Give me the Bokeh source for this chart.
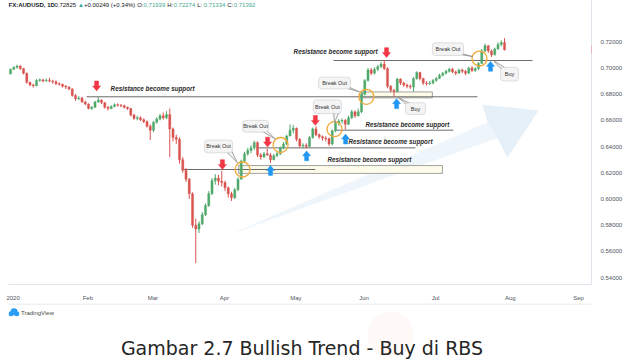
import numpy as np
import pandas as pd
from bokeh.plotting import figure
from bokeh.models import Range1d, FixedTicker, BoxAnnotation, Label, ColumnDataSource
from bokeh.layouts import column
from bokeh.embed import file_html
from bokeh.resources import INLINE
from bokeh.core.properties import value

# ---------------- DATA (AUDUSD daily) ----------------
trade_dates = pd.bdate_range("2020-01-01", "2020-07-31")
first_open = 0.6955
closes = [0.6990, 0.7005, 0.7015, 0.6995, 0.6960, 0.6890, 0.6870, 0.6865, 0.6905, 0.6910,
          0.6900, 0.6905, 0.6900, 0.6895, 0.6880, 0.6875, 0.6860, 0.6855, 0.6840, 0.6790,
          0.6765, 0.6770, 0.6740, 0.6725, 0.6690, 0.6700, 0.6740, 0.6755, 0.6735, 0.6700,
          0.6690, 0.6705, 0.6720, 0.6715, 0.6712, 0.6700, 0.6690, 0.6640, 0.6615, 0.6620,
          0.6605, 0.6590, 0.6555, 0.6525, 0.6585, 0.6610, 0.6635, 0.6620, 0.6645, 0.6535,
          0.6470, 0.6455, 0.6300, 0.6220, 0.6150, 0.6040, 0.5800, 0.5770, 0.5810, 0.5880,
          0.5950, 0.6040, 0.6140, 0.6160, 0.6135, 0.6125, 0.6085, 0.6040, 0.6010, 0.6070,
          0.6150, 0.6290, 0.6345, 0.6370, 0.6390, 0.6430, 0.6335, 0.6320, 0.6345, 0.6335,
          0.6300, 0.6330, 0.6345, 0.6390, 0.6420, 0.6480, 0.6525, 0.6540, 0.6455, 0.6405,
          0.6410, 0.6400, 0.6470, 0.6535, 0.6490, 0.6475, 0.6465, 0.6460, 0.6420, 0.6520,
          0.6580, 0.6595, 0.6600, 0.6570, 0.6620, 0.6665, 0.6635, 0.6665, 0.6800, 0.6905,
          0.6985, 0.6960, 0.6990, 0.7010, 0.7030, 0.6995, 0.6860, 0.6830, 0.6820, 0.6915,
          0.6885, 0.6870, 0.6860, 0.6855, 0.6920, 0.6965, 0.6920, 0.6885, 0.6880, 0.6885,
          0.6905, 0.6920, 0.6945, 0.6960, 0.6975, 0.6990, 0.6970, 0.6960, 0.6985, 0.6975,
          0.6960, 0.7000, 0.6980, 0.6995, 0.7035, 0.7130, 0.7170, 0.7130, 0.7100, 0.7145,
          0.7180, 0.71939, 0.71392]
highs = [0.6995, 0.7010, 0.7025, 0.7020, 0.7000, 0.6965, 0.6895, 0.6880, 0.6915, 0.6920,
         0.6915, 0.6920, 0.6925, 0.6910, 0.6905, 0.6890, 0.6880, 0.6870, 0.6860, 0.6845,
         0.6800, 0.6785, 0.6780, 0.6750, 0.6730, 0.6710, 0.6750, 0.6778, 0.6760, 0.6740,
         0.6710, 0.6715, 0.6730, 0.6730, 0.6725, 0.6720, 0.6705, 0.6695, 0.6650, 0.6635,
         0.6630, 0.6615, 0.6600, 0.6570, 0.6595, 0.6625, 0.6650, 0.6660, 0.6670, 0.6690,
         0.6545, 0.6490, 0.6470, 0.6320, 0.6235, 0.6160, 0.6050, 0.5850, 0.5830, 0.5900,
         0.5965, 0.6060, 0.6160, 0.6190, 0.6185, 0.6215, 0.6140, 0.6095, 0.6055, 0.6085,
         0.6165, 0.6300, 0.6360, 0.6390, 0.6410, 0.6445, 0.6440, 0.6350, 0.6360, 0.6385,
         0.6350, 0.6345, 0.6360, 0.6400, 0.6435, 0.6490, 0.6570, 0.6565, 0.6545, 0.6465,
         0.6425, 0.6425, 0.6480, 0.6545, 0.6555, 0.6500, 0.6485, 0.6480, 0.6470, 0.6530,
         0.6595, 0.6610, 0.6615, 0.6610, 0.6635, 0.6680, 0.6675, 0.6690, 0.6815, 0.6915,
         0.7000, 0.7000, 0.7005, 0.7025, 0.7045, 0.7060, 0.7005, 0.6870, 0.6840, 0.6925,
         0.6920, 0.6895, 0.6880, 0.6875, 0.6930, 0.6975, 0.6970, 0.6925, 0.6900, 0.6900,
         0.6915, 0.6930, 0.6955, 0.6970, 0.6985, 0.7000, 0.7000, 0.6980, 0.6995, 0.6995,
         0.6985, 0.7010, 0.7015, 0.7005, 0.7045, 0.7145, 0.7185, 0.7175, 0.7140, 0.7155,
         0.7195, 0.7210, 0.72274]
lows = [0.6950, 0.6985, 0.6995, 0.6985, 0.6950, 0.6880, 0.6860, 0.6850, 0.6860, 0.6895,
        0.6890, 0.6895, 0.6890, 0.6880, 0.6870, 0.6865, 0.6850, 0.6840, 0.6830, 0.6780,
        0.6750, 0.6755, 0.6735, 0.6715, 0.6685, 0.6680, 0.6695, 0.6735, 0.6725, 0.6690,
        0.6675, 0.6685, 0.6700, 0.6705, 0.6700, 0.6690, 0.6680, 0.6630, 0.6605, 0.6600,
        0.6595, 0.6580, 0.6545, 0.6450, 0.6510, 0.6575, 0.6600, 0.6605, 0.6610, 0.6320,
        0.6440, 0.6420, 0.6270, 0.6200, 0.6130, 0.6000, 0.5780, 0.5510, 0.5740, 0.5800,
        0.5870, 0.5940, 0.6030, 0.6110, 0.6105, 0.6095, 0.6060, 0.6010, 0.5985, 0.6000,
        0.6060, 0.6150, 0.6275, 0.6330, 0.6350, 0.6375, 0.6320, 0.6300, 0.6315, 0.6330,
        0.6275, 0.6295, 0.6320, 0.6335, 0.6380, 0.6410, 0.6480, 0.6500, 0.6440, 0.6390,
        0.6385, 0.6385, 0.6395, 0.6460, 0.6480, 0.6460, 0.6445, 0.6440, 0.6405, 0.6410,
        0.6510, 0.6560, 0.6575, 0.6530, 0.6565, 0.6610, 0.6620, 0.6630, 0.6655, 0.6790,
        0.6895, 0.6945, 0.6950, 0.6975, 0.7000, 0.6985, 0.6845, 0.6815, 0.6780, 0.6815,
        0.6870, 0.6855, 0.6845, 0.6840, 0.6820, 0.6910, 0.6905, 0.6870, 0.6865, 0.6870,
        0.6875, 0.6895, 0.6915, 0.6935, 0.6950, 0.6965, 0.6960, 0.6945, 0.6955, 0.6960,
        0.6945, 0.6955, 0.6970, 0.6970, 0.6985, 0.7030, 0.7120, 0.7115, 0.7085, 0.7095,
        0.7140, 0.7165, 0.71334]
month_labels = ["2020", "Feb", "Mar", "Apr", "May", "Jun", "Jul", "Aug", "Sep"]
price_ticks = [0.54, 0.56, 0.58, 0.60, 0.62, 0.64, 0.66, 0.68, 0.70, 0.72]
last_price = 0.71392
header_parts = [("FX:AUDUSD, 1D", "#131722", "bold"), ("0.72825", "#131722", "normal"),
                ("\u25B2", "#26a69a", "normal"), ("+0.00249 (+0.34%)", "#131722", "normal"),
                ("O:", "#131722", "normal"), ("0.71939", "#3fa98f", "normal"),
                ("H:", "#131722", "normal"), ("0.72274", "#3fa98f", "normal"),
                ("L:", "#131722", "normal"), ("0.71334", "#3fa98f", "normal"),
                ("C:", "#131722", "normal"), ("0.71392", "#3fa98f", "normal")]
caption = "Gambar 2.7 Bullish Trend - Buy di RBS"

# ---------------- ANNOTATIONS (in data units: trade index, price) ----------------
support_lines = [(23.4, 143.7, 0.6780), (99.4, 160.6, 0.7057), (53.2, 93.8, 0.6225),
                 (75.7, 124.6, 0.6390), (100.0, 136.3, 0.6525)]
support_texts = [(30.8, 0.6840), (87.1, 0.7125), (97.5, 0.6300), (104.0, 0.6435), (109.2, 0.6570)]
zones = [(70.2, 132.9, 0.6195, 0.6255), (108.3, 129.8, 0.6772, 0.6817)]
down_arrows = [(26.5, 0.6825), (65.2, 0.6225), (79.1, 0.6397), (93.8, 0.6562), (115.7, 0.7080)]
up_arrows = [(80.0, 0.6255), (91.1, 0.6367), (103.1, 0.6495), (118.8, 0.6765), (147.7, 0.7050)]
breakout_pts = [(71.4, 0.6225), (83.1, 0.6412), (99.7, 0.6533), (109.5, 0.6780), (144.3, 0.7072)]
callouts = [  # text, left, right, bottom, top, base_x, base_y, tip_x, tip_y
    ("Break Out", 59.7, 68.3, 0.6352, 0.6450, 67.1, 0.6367, 69.8, 0.6277),
    ("Break Out", 71.4, 79.4, 0.6510, 0.6600, 77.8, 0.6525, 81.5, 0.6457),
    ("Break Out", 93.2, 101.8, 0.6652, 0.6757, 100.3, 0.6667, 99.7, 0.6585),
    ("Break Out", 94.8, 104.6, 0.6840, 0.6930, 103.1, 0.6855, 107.4, 0.6817),
    ("Break Out", 129.8, 139.4, 0.7095, 0.7192, 137.8, 0.7110, 142.2, 0.7087),
    ("Buy", 121.5, 127.7, 0.6645, 0.6735, 122.8, 0.6720, 119.4, 0.6772),
    ("Buy", 150.8, 156.3, 0.6900, 0.7005, 152.0, 0.6990, 148.6, 0.7057),
]
trend_arrow = [(67.7, 0.5730), (146.8, 0.6585), (145.2, 0.6720), (162.5, 0.6675),
               (152.9, 0.6315), (149.8, 0.6465)]

# ---------------- FIGURE ----------------
X0, X1 = -0.62, 178.77
Y0, Y1 = 0.5347, 0.7515
FW, FH = 583, 289
sx = FW / (X1 - X0)
sy = FH / (Y1 - Y0)

UP, DOWN = "#4fa86a", "#d9534f"
FONT = "Liberation Sans"

p = figure(width=627, height=303, x_range=Range1d(X0, X1), y_range=Range1d(Y0, Y1),
           title=None, output_backend="svg", toolbar_location=None, y_axis_location="right",
           min_border_left=8, min_border_top=0, min_border_right=36, min_border_bottom=14)
p.xgrid.grid_line_color = None
p.ygrid.grid_line_color = None
p.outline_line_color = None
p.background_fill_color = "white"

# axes
all_days = pd.bdate_range("2020-01-01", "2020-09-30")
month_ticks = [round(float(np.where(all_days.month == m)[0][0]) + 0.8, 1) for m in range(1, 10)]
p.xaxis.ticker = FixedTicker(ticks=month_ticks)
p.xaxis.major_label_overrides = {t: lab for t, lab in zip(month_ticks, month_labels)}
p.yaxis.ticker = FixedTicker(ticks=price_ticks)
p.yaxis.major_label_overrides = {t: f"{t:.5f}" for t in price_ticks}
for ax in (p.xaxis[0], p.yaxis[0]):
    ax.axis_line_color = "#e0e3eb"
    ax.major_tick_line_color = None
    ax.minor_tick_line_color = None
    ax.major_label_text_font = FONT
    ax.major_label_text_font_size = "6px"
    ax.major_label_text_color = "#50535e"
p.yaxis.major_label_standoff = 3
p.xaxis.major_label_standoff = 4

# trend arrow (behind everything)
tx = [a for a, b in trend_arrow]
ty = [b for a, b in trend_arrow]
p.patch(tx, ty, fill_color="#d5e5f6", fill_alpha=0.4, line_color=None)
p.patch(tx[1:], ty[1:], fill_color="#d5e5f6", fill_alpha=0.3, line_color=None)

# zones
p.quad(left=[z[0] for z in zones], right=[z[1] for z in zones],
       bottom=[z[2] for z in zones], top=[z[3] for z in zones],
       fill_color="#fdfbea", line_color="#8c8c8c", line_width=0.8)

# support lines
p.segment(x0=[s[0] for s in support_lines], x1=[s[1] for s in support_lines],
          y0=[s[2] for s in support_lines], y1=[s[2] for s in support_lines],
          line_color="#6b6b6b", line_width=1)

# candles
idx = list(range(len(closes)))
opens = [first_open] + closes[:-1]
colors = [UP if c >= o else DOWN for o, c in zip(opens, closes)]
src = ColumnDataSource(dict(x=idx, o=opens, c=closes, h=highs, l=lows, col=colors,
                            top=[max(o, c) for o, c in zip(opens, closes)],
                            bot=[min(o, c) for o, c in zip(opens, closes)]))
p.segment(x0="x", x1="x", y0="l", y1="h", line_color="col", line_width=1, source=src)
p.vbar(x="x", width=0.65, top="top", bottom="bot", fill_color="col", line_color="col",
       line_width=0.4, source=src)

# breakout circles
p.scatter([b[0] for b in breakout_pts], [b[1] for b in breakout_pts], marker="circle",
          size=15, fill_color=None, line_color="#f0a93a", line_width=1.3)

# block arrows
def block_arrow(x, y, direction):
    pts_px = [(0, 0), (4, 5), (2, 5), (2, 10), (-2, 10), (-2, 5), (-4, 5)]
    return ([x + dx / sx for dx, dy in pts_px],
            [y + direction * dy / sy for dx, dy in pts_px])

dxs, dys = zip(*[block_arrow(x, y, 1) for x, y in down_arrows])
p.patches(list(dxs), list(dys), fill_color="#f23645", line_color="#f23645", line_width=0.5)
uxs, uys = zip(*[block_arrow(x, y, -1) for x, y in up_arrows])
p.patches(list(uxs), list(uys), fill_color="#2196f3", line_color="#2196f3", line_width=0.5)

# callout tails
tails_x, tails_y = [], []
for (_, l, r, b, t, bx, by, tipx, tipy) in callouts:
    tails_x.append([bx - 3 / sx, bx + 3 / sx, tipx])
    tails_y.append([by, by, tipy])
p.patches(tails_x, tails_y, fill_color="#f4f4f4", line_color="#8a8a8a", line_width=0.8)

# callout boxes + texts
for (txt, l, r, b, t, *_rest) in callouts:
    p.add_layout(BoxAnnotation(left=l, right=r, bottom=b, top=t, fill_color="#f4f4f4",
                               fill_alpha=1, line_color="#8a8a8a", line_width=0.8,
                               border_radius=3))
    p.add_layout(Label(x=(l + r) / 2, y=(b + t) / 2, text=txt, text_align="center",
                       text_baseline="middle", text_font=FONT, text_font_size="5.5px",
                       text_color="#333333"))

for (x, y) in support_texts:
    p.add_layout(Label(x=x, y=y, text="Resistance become support", text_baseline="middle",
                       text_font=FONT, text_font_size="6.3px", text_font_style="bold italic",
                       text_color="#2a2a2a"))

# header
hy = Y1 - 5 / sy
char_w = {"bold": 3.3, "normal": 2.95}
cur = 0.0
for txt, col, style in header_parts:
    p.add_layout(Label(x=X0 + cur / sx, y=hy, text=txt, text_baseline="middle",
                       text_font=FONT, text_font_size="6px", text_font_style=style,
                       text_color=col))
    cur += len(txt) * char_w[style] + (0.5 if txt.endswith(":") else 3)

# price tag on the axis
p.add_layout(Label(x=X1, y=last_price, text=f"{last_price:.5f}",
                   text_baseline="middle", text_font=FONT, text_font_size="6px",
                   text_color="white", background_fill_color="#f23645",
                   padding=2))
p.add_layout(Label(x=X1 + 7 / sx, y=Y1 - 15 / sy, text="USD", text_baseline="middle",
                   text_font=FONT, text_font_size="5.5px", text_color="#50535e",
                   border_line_color="#c9ccd6", border_line_width=0.6, padding=1))

# ---------------- BOTTOM STRIP (page pixel coordinates) ----------------
p2 = figure(width=627, height=59, x_range=Range1d(8, 591), y_range=Range1d(59, 0),
            title=None, output_backend="svg", toolbar_location=None,
            min_border_left=8, min_border_right=36, min_border_top=0, min_border_bottom=0)
p2.axis.visible = False
p2.xgrid.grid_line_color = None
p2.ygrid.grid_line_color = None
p2.outline_line_color = None
p2.segment(x0=[8], x1=[591], y0=[0.5], y1=[0.5], line_color="#e0e3eb")
p2.scatter([390], [31], size=46, marker="circle", fill_color="#fef8f6", line_color=None)
p2.scatter([10.5, 13.5, 16.3], [10.2, 8.3, 10.2], size=[5, 7, 5], marker="circle",
           fill_color="#2a9df4", line_color=None)
p2.text(x=[20.5], y=[9.3], text=["TradingView"], text_font=value(FONT), text_font_size="6px",
        text_color="#4a4a4a", text_baseline="middle")
p2.text(x=[301.5], y=[44], text=[caption], text_font=value("DejaVu Sans"),
        text_font_size="19px", text_color="#262626", text_align="center",
        text_baseline="middle")

layout = column(p, p2, spacing=0)
open("out.html", "w").write(file_html(layout, INLINE))
